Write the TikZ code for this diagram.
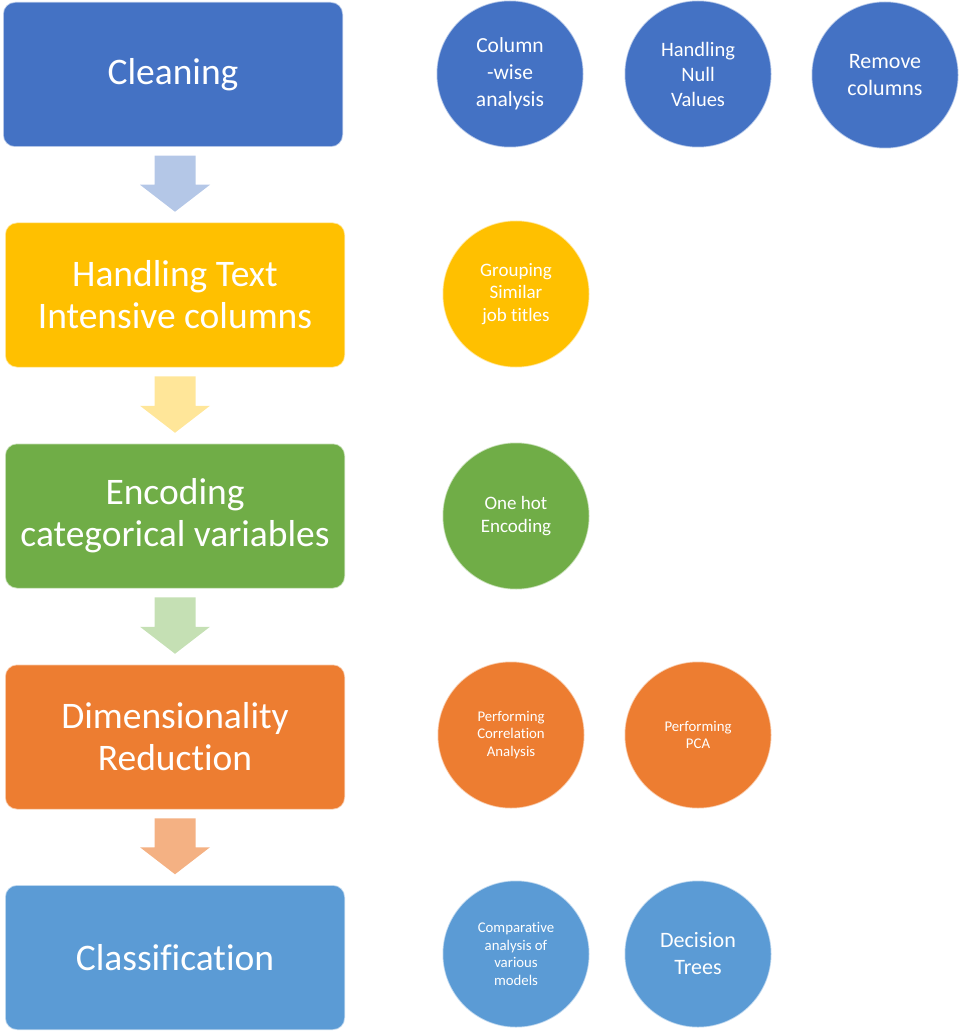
\documentclass[tikz,border=0pt]{standalone}
\usepackage{fontspec}
\setmainfont{Carlito}[Ligatures=NoCommon]
\usetikzlibrary{calc}
\definecolor{cblue}{HTML}{4472C4}
\definecolor{cgold}{HTML}{FFC000}
\definecolor{cgreen}{HTML}{70AD47}
\definecolor{corange}{HTML}{ED7D31}
\definecolor{clblue}{HTML}{5B9BD5}
\definecolor{tblue}{HTML}{B4C7E7}
\definecolor{tgold}{HTML}{FFE699}
\definecolor{tgreen}{HTML}{C5E0B4}
\definecolor{torange}{HTML}{F4B183}
\newcommand{\blockarr}[3]{%
  \fill[#3] ($(#1.south -| #2.north)+(-20.5,8)$) -- ($(#1.south -| #2.north)+(20.5,8)$) -- ($(#2.north)+(20.5,-37)$) -- ($(#2.north)+(35,-37)$) -- ($(#2.north)+(0,-10)$) -- ($(#2.north)+(-35,-37)$) -- ($(#2.north)+(-20.5,-37)$) -- cycle;}
\tikzset{
  stagebox/.style={rectangle, rounded corners=12pt, minimum width=340pt, minimum height=145pt,
    draw=white, draw opacity=0.6, line width=1.5pt, text=white, align=center, inner sep=0pt,
    font=\fontsize{37.5}{42}\selectfont},
  taskcircle/.style={circle, minimum size=147pt, inner sep=0pt, draw=white, draw opacity=0.6,
    line width=1.5pt, text=white, align=center},
  fa/.style={font=\fontsize{21.5}{27}\selectfont},
  fb/.style={font=\fontsize{20.5}{25}\selectfont},
  fc/.style={font=\fontsize{19}{22.5}\selectfont},
  fd/.style={font=\fontsize{14.8}{17.5}\selectfont},
  fe/.style={font=\fontsize{22}{27}\selectfont},
}
\begin{document}
\begin{tikzpicture}[x=1pt,y=-1pt]
\useasboundingbox (0,0) rectangle (960,1032);
% stages
\node[stagebox, fill=cblue] (b1) at (173,74.5) {Cleaning};
\node[stagebox, fill=cgold] (b2) at (175,295) {Handling Text\\Intensive columns};
\node[stagebox, fill=cgreen] (b3) at (175,516) {Encoding\\categorical variables};
\node[stagebox, fill=corange] (b4) at (175,737) {Dimensionality\\Reduction};
\node[stagebox, fill=clblue] (b5) at (175,957.5) {Classification};
% arrows
\blockarr{b1}{b2}{tblue}
\blockarr{b2}{b3}{tgold}
\blockarr{b3}{b4}{tgreen}
\blockarr{b4}{b5}{torange}
% circles
\node[taskcircle, fill=cblue, fa] (c11) at (510,74) {Column\\-wise\\analysis};
\node[taskcircle, fill=cblue, fb] (c12) at (698,74) {Handling\\Null\\Values};
\node[taskcircle, fill=cblue, fe] (c13) at (885,75) {Remove\\columns};
\node[taskcircle, fill=cgold, fc] (c21) at (516,294) {Grouping\\Similar\\job titles};
\node[taskcircle, fill=cgreen, fc] (c31) at (516,516) {One hot\\Encoding};
\node[taskcircle, fill=corange, fd] (c41) at (511,735) {Performing\\Correlation\\Analysis};
\node[taskcircle, fill=corange, fd] (c42) at (698,735) {Performing\\PCA};
\node[taskcircle, fill=clblue, fd] (c51) at (516,954) {Comparative\\analysis of\\various\\models};
\node[taskcircle, fill=clblue, fe] (c52) at (698,954) {Decision\\Trees};
\end{tikzpicture}
\end{document}
